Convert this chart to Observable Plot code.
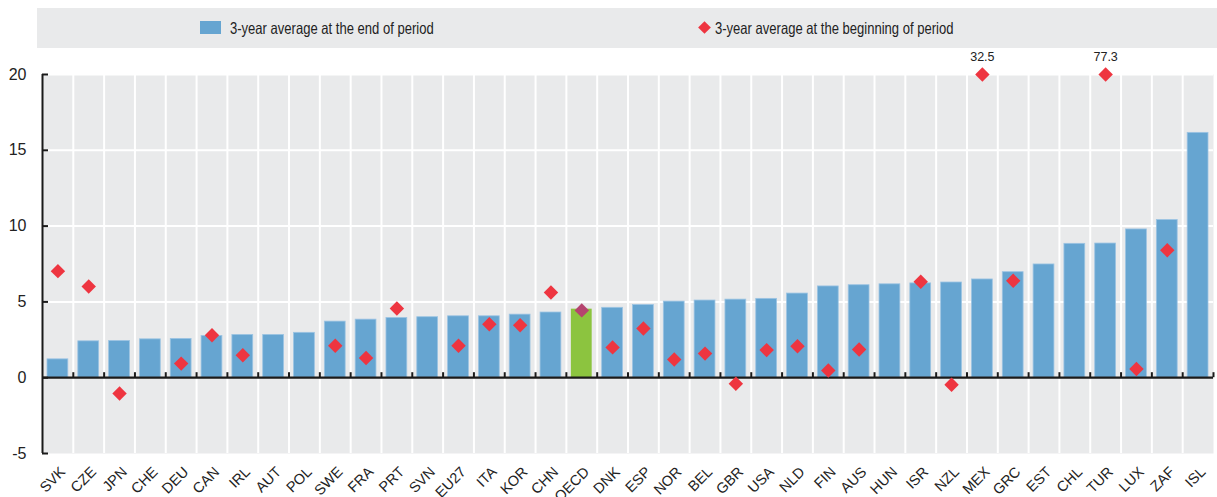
<!DOCTYPE html>
<html>
<head>
<meta charset="utf-8">
<script src="https://cdn.jsdelivr.net/npm/d3@7"></script>
<script src="https://cdn.jsdelivr.net/npm/@observablehq/plot@0.6"></script>
<style>
  body { margin: 0; background: #fff; font-family: "Liberation Sans", Arial, sans-serif; }
  #legend { position: relative; width: 1217px; height: 56px; }
  #legend .band { position: absolute; left: 37px; top: 8px; width: 1180px; height: 40px; background: #e9eaeb; }
  #legend .sw { position: absolute; left: 200px; top: 21px; width: 21px; height: 13px; background: #66a5d1; }
  #legend .dm { position: absolute; left: 700px; top: 23px; width: 9px; height: 9px; background: #ee3540; transform: rotate(45deg); }
  #legend .lab { position: absolute; top: 8px; height: 40px; line-height: 40px; font-size: 16.5px; color: #222; white-space: nowrap; transform-origin: 0 50%; transform: scaleX(0.79); }
  #chart svg { display: block; }
</style>
</head>
<body>
<div id="legend">
  <div class="band"></div>
  <div class="sw"></div>
  <div class="lab" style="left:230px">3-year average at the end of period</div>
  <div class="dm"></div>
  <div class="lab" style="left:715px">3-year average at the beginning of period</div>
</div>
<div id="chart"></div>
<script>
const categories = ["SVK","CZE","JPN","CHE","DEU","CAN","IRL","AUT","POL","SWE","FRA","PRT","SVN","EU27","ITA","KOR","CHN","OECD","DNK","ESP","NOR","BEL","GBR","USA","NLD","FIN","AUS","HUN","ISR","NZL","MEX","GRC","EST","CHL","TUR","LUX","ZAF","ISL"];
const endValues = [1.21,2.40,2.42,2.53,2.56,2.75,2.82,2.82,2.96,3.70,3.83,3.94,3.99,4.05,4.05,4.16,4.30,4.52,4.61,4.79,5.02,5.09,5.15,5.20,5.55,6.02,6.10,6.16,6.22,6.28,6.48,6.96,7.47,8.83,8.85,9.78,10.40,16.15];
const beginValues = [7.03,6.01,-1.04,null,0.93,2.80,1.48,null,null,2.11,1.30,4.56,null,2.11,3.52,3.46,5.62,4.44,2.00,3.25,1.20,1.59,-0.40,1.82,2.08,0.48,1.86,null,6.33,-0.46,32.5,6.39,null,null,77.3,0.57,8.41,null];
const yTicks = [-5, 0, 5, 10, 15, 20];
const highlight = "OECD";
const yMax = 20;

const data = categories.map((c, i) => ({code: c, end: endValues[i], begin: beginValues[i]}));
const withBegin = data.filter(d => d.begin != null);

const W = 1217, H = 441, mL = 42, mR = 4, mT = 18, mB = 44;
const bw = (W - mL - mR) / categories.length;
const font = '"Liberation Sans", Arial, sans-serif';

const chart = Plot.plot({
  width: W, height: H,
  marginLeft: mL, marginRight: mR, marginTop: mT, marginBottom: mB,
  style: {fontFamily: font, background: "transparent", overflow: "visible"},
  x: {type: "band", domain: categories, padding: 0, axis: null, label: null},
  y: {domain: [-5, yMax], axis: null, label: null},
  marks: [
    Plot.frame({fill: "#e9eaeb", stroke: null}),
    Plot.ruleY(yTicks.filter(t => t > 0), {stroke: "#fff", strokeWidth: 2}),
    Plot.ruleX(categories.slice(1), {x: d => d, dx: -bw / 2, stroke: "#fff", strokeWidth: 2}),
    Plot.barY(data.filter(d => d.code !== highlight), {x: "code", y: "end", fill: "#66a5d1", stroke: "#9cc4e3", strokeWidth: 0.8, insetLeft: 5, insetRight: 5}),
    Plot.barY(data.filter(d => d.code === highlight), {x: "code", y: "end", fill: "#8cc43f", insetLeft: 5, insetRight: 5}),
    Plot.ruleY([0], {stroke: "#1a1a1a", strokeWidth: 2.2}),
    Plot.ruleX(categories.slice(1), {x: d => d, y1: 0, y2: 0.33, dx: -bw / 2, stroke: "#1a1a1a", strokeWidth: 2}),
    Plot.ruleX(categories.slice(-1), {x: d => d, y1: 0, y2: 0.33, dx: bw / 2, stroke: "#1a1a1a", strokeWidth: 2}),
    Plot.ruleX(categories.slice(0, 1), {x: d => d, dx: -bw / 2, stroke: "#1a1a1a", strokeWidth: 2}),
    Plot.ruleY(yTicks, {stroke: "#1a1a1a", strokeWidth: 2, insetRight: W - mL - mR - 6}),
    Plot.axisY({ticks: yTicks, tickFormat: d => String(d), label: null, tickSize: 0, tickPadding: 16, fontSize: 16, fill: "#222"}),
    Plot.text(categories, {x: d => d, text: d => d, frameAnchor: "bottom", rotate: -45, textAnchor: "end", lineAnchor: "middle", dx: 5, dy: 16, fontSize: 14.5, fill: "#222"}),
    Plot.dot(withBegin.filter(d => d.code !== highlight), {x: "code", y: d => Math.min(d.begin, yMax), symbol: "diamond2", r: 6.5, fill: "#ee3540", stroke: null}),
    Plot.dot(withBegin.filter(d => d.code === highlight), {x: "code", y: d => Math.min(d.begin, yMax), symbol: "diamond2", r: 6.5, fill: "#b5446f", stroke: null}),
    Plot.text(withBegin.filter(d => d.begin > yMax), {x: "code", y: () => yMax, text: d => d.begin.toFixed(1), dy: -18, fontSize: 12.5, fill: "#222"})
  ]
});
document.getElementById("chart").appendChild(chart);
</script>
</body>
</html>
